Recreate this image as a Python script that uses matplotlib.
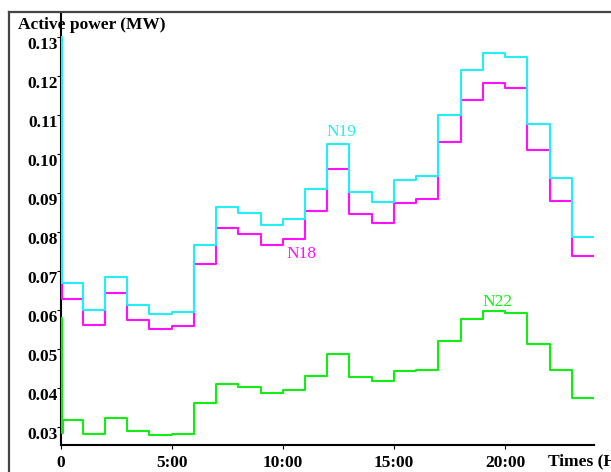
import numpy as np
import matplotlib
matplotlib.use("Agg")
import matplotlib.pyplot as plt
from matplotlib.lines import Line2D
from matplotlib.transforms import ScaledTranslation

# hourly active power (MW), one value per hour 0..23
hours = np.arange(25)
n19 = [0.0670, 0.0600, 0.0686, 0.0613, 0.0589, 0.0595, 0.0766, 0.0864, 0.0850, 0.0818,
       0.0833, 0.0911, 0.1027, 0.0904, 0.0878, 0.0934, 0.0945, 0.1100, 0.1217, 0.1259,
       0.1249, 0.1078, 0.0939, 0.0788]
n18 = [0.0629, 0.0562, 0.0643, 0.0575, 0.0552, 0.0558, 0.0718, 0.0811, 0.0796, 0.0766,
       0.0782, 0.0854, 0.0963, 0.0846, 0.0823, 0.0875, 0.0885, 0.1030, 0.1140, 0.1182,
       0.1170, 0.1011, 0.0880, 0.0739]
n22 = [0.0318, 0.0283, 0.0324, 0.0290, 0.0280, 0.0282, 0.0362, 0.0411, 0.0403, 0.0388,
       0.0396, 0.0432, 0.0488, 0.0429, 0.0417, 0.0445, 0.0447, 0.0522, 0.0578, 0.0598,
       0.0593, 0.0513, 0.0446, 0.0375]
# start-up transient at t=0
n19_start = [0.130]
n18_start = [0.120]
n22_start = [0.058, 0.0285]

yticks = [0.03, 0.04, 0.05, 0.06, 0.07, 0.08, 0.09, 0.10, 0.11, 0.12, 0.13]
xticks = [0, 5, 10, 15, 20]
xlabels = ['0', '5:00', '10:00', '15:00', '20:00']

plt.rcParams['font.family'] = ['Liberation Serif', 'DejaVu Serif']

fig = plt.figure(figsize=(6.11, 4.72), dpi=100)
W, H = 611, 472
ax = fig.add_axes([60.5 / W, (H - 445) / H, (594 - 60.5) / W, (445 - 13) / H])


def series(start, vals):
    dt = 0.05
    t = [i * dt for i in range(len(start))] + [len(start) * dt] + list(hours[1:])
    y = list(start) + list(vals) + [vals[-1]]
    return t, y


for start, vals, col in [(n22_start, n22, '#11ee11'),
                         (n18_start, n18, '#ff11ff'),
                         (n19_start, n19, '#22eef5')]:
    t, y = series(start, vals)
    ax.step(t, y, where='post', color=col, lw=1.5, zorder=3)

ax.set_xlim(0, 24)
ax.set_ylim(0.0254, 0.1362)
ax.spines['top'].set_visible(False)
ax.spines['right'].set_visible(False)
ax.spines['left'].set_linewidth(1.5)
ax.spines['bottom'].set_linewidth(1.5)

ax.set_yticks(yticks)
ax.set_yticklabels(['%.2f' % v for v in yticks], fontsize=12.5, fontweight='bold')
ax.set_xticks(xticks)
ax.set_xticklabels(xlabels, fontsize=12.5, fontweight='bold')
ax.tick_params(axis='y', length=3, pad=-1)
ax.tick_params(axis='x', length=3, pad=4)
off = ScaledTranslation(0, -6 / 100, fig.dpi_scale_trans)
for lab in ax.get_yticklabels():
    lab.set_transform(lab.get_transform() + off)

ax.text(12.62, 0.1057, 'N19', color='#22eef5', fontsize=12.5, ha='center', va='center')
ax.text(10.82, 0.0744, 'N18', color='#ff11ff', fontsize=12.5, ha='center', va='center')
ax.text(19.64, 0.0621, 'N22', color='#11ee11', fontsize=12.5, ha='center', va='center')

fig.text(18 / W, 1 - 25 / H, 'Active power (MW)', fontsize=12.5, fontweight='bold',
         ha='left', va='center')
fig.text(548 / W, 1 - 461 / H, 'Times (H)', fontsize=12.5, fontweight='bold',
         ha='left', va='center')

# outer frame of the original figure
fig.add_artist(Line2D([9 / W, 9 / W], [0, 1 - 12 / H], color='#444444', lw=1.6))
fig.add_artist(Line2D([9 / W, 1], [1 - 12 / H, 1 - 12 / H], color='#444444', lw=1.6))

fig.savefig('out.png', dpi=100)
